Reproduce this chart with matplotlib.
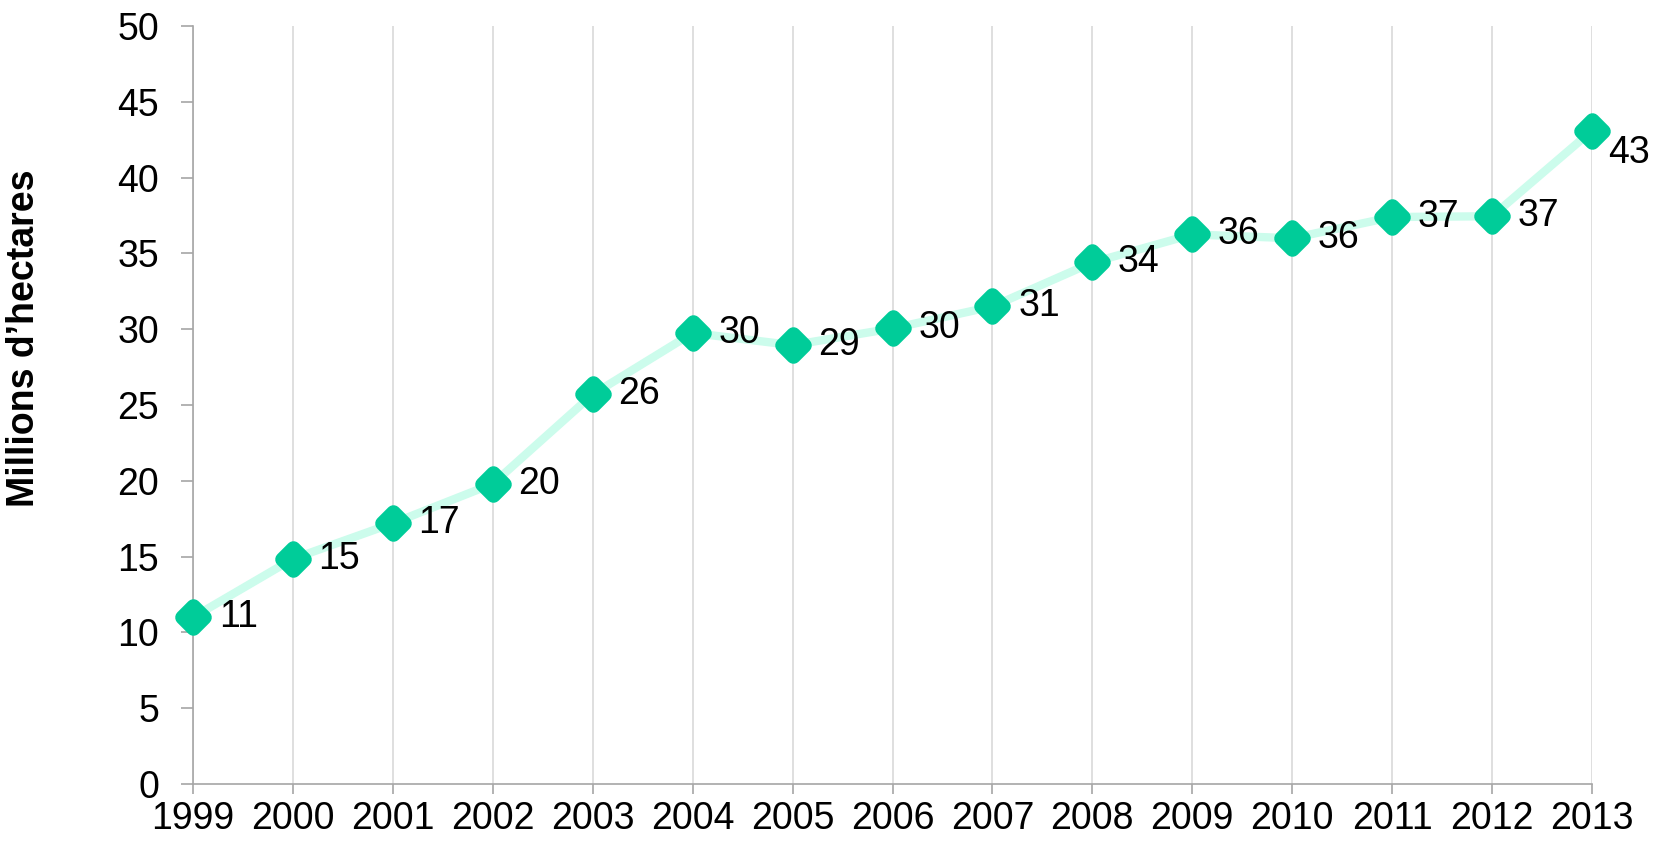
import matplotlib
matplotlib.use("Agg")
import matplotlib.pyplot as plt
from matplotlib.markers import MarkerStyle

years = [1999, 2000, 2001, 2002, 2003, 2004, 2005, 2006, 2007, 2008, 2009, 2010, 2011, 2012, 2013]
values = [11.0, 14.85, 17.2, 19.8, 25.7, 29.75, 28.95, 30.05, 31.5, 34.4, 36.25, 36.0, 37.4, 37.45, 43.1]
labels = ["11", "15", "17", "20", "26", "30", "29", "30", "31", "34", "36", "36", "37", "37", "43"]
yticks = [0, 5, 10, 15, 20, 25, 30, 35, 40, 45, 50]
ylabel = "Millions d\u2019hectares"

plt.rcParams['font.family'] = ['Liberation Sans', 'DejaVu Sans']

fig = plt.figure(figsize=(16.63, 8.44), dpi=100)
ax = fig.add_axes([193/1663, 1 - 784/844, (1592 - 193)/1663, (784 - 26)/844])

ax.plot(years, values, color='#CCFCEC', lw=6, solid_capstyle='butt', zorder=2, clip_on=False)
ax.plot(years, values, linestyle='none', marker=MarkerStyle('D', joinstyle='round'), ms=11,
        mfc='#00CC99', mec='#00CC99', mew=10.5, zorder=3, clip_on=False)
for i, (x, y, t) in enumerate(zip(years, values, labels)):
    off = (18.5, 0)
    if i == len(years) - 1:
        off = (11.5, -16)
    ax.annotate(t, (x, y), xytext=off, textcoords='offset points', ha='left', va='center',
                fontsize=27, color='black', zorder=4)

ax.set_xlim(years[0], years[-1])
ax.set_ylim(0, 50)
ax.set_xticks(years)
ax.set_xticklabels([str(y) for y in years])
ax.set_yticks(yticks)
ax.tick_params(axis='both', labelsize=27, colors='#A6A6A6', labelcolor='black')
ax.tick_params(axis='y', length=8.5, width=1.2, pad=16)
ax.tick_params(axis='x', length=7.5, width=1.2, pad=5)
ax.grid(axis='x', color='#D9D9D9', lw=1.2)
ax.set_axisbelow(True)
for s in ['top', 'right']:
    ax.spines[s].set_visible(False)
for s in ['left', 'bottom']:
    ax.spines[s].set_color('#A6A6A6')
    ax.spines[s].set_linewidth(1.2)

fig.text(24/1663, 1 - 338/844, ylabel, rotation=90, ha='center', va='center',
         fontsize=27, fontweight='bold')

fig.savefig('out.png', dpi=100, facecolor='white')
